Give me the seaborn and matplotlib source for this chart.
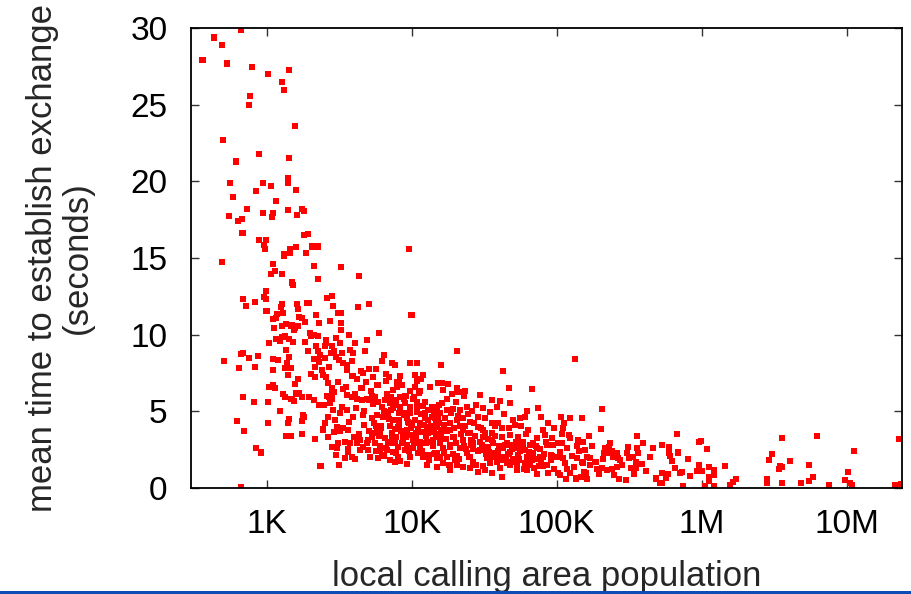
import matplotlib
matplotlib.use("Agg")
import matplotlib.pyplot as plt
from matplotlib.patches import Rectangle
import pandas as pd
import seaborn as sns

# Local calling areas grouped by population band: population and mean
# time (seconds) to establish an exchange.
pop_under_1k = [660, 430, 490, 360, 530, 790, 760, 755, 500, 880, 615, 560, 940, 845,
                585, 735, 935, 550, 630, 675, 680, 880, 990, 958, 975,
                490, 985, 958, 990, 690, 835, 715, 995, 660, 690, 870, 755, 505, 645,
                830, 690, 815, 620, 700, 845, 910, 660]
sec_under_1k = [29.9, 29.4, 28.9, 27.9, 27.7, 27.5, 25.6, 25.0, 22.7, 21.8, 21.3, 19.9, 19.9, 19.4,
                19.0, 18.2, 17.95, 17.75, 17.4, 17.55, 16.65, 16.15, 16.15, 15.85, 15.6,
                14.75, 12.85, 12.45, 12.3, 12.3, 12.1, 11.85, 11.55, 8.75, 8.8, 8.6, 8.5, 8.3, 7.8,
                7.9, 5.95, 5.6, 4.35, 3.7, 2.6, 2.3, 0.03]

pop_1k_10k = [1020, 1420, 1270, 1320, 1570, 1430, 1395, 1410, 1065, 1590, 1160, 1750, 1810, 1410,
              1110, 1090, 1620, 1815, 1920, 1450, 1590, 2065,
              1450, 1305, 1320, 1865, 2270, 1110, 1145, 1075, 1275, 2130, 2250, 1490, 1520,
              1270, 1255, 1610, 1635, 1905, 1965, 1290, 1180, 1155, 1110, 1670, 1760, 1845,
              2190, 2295, 1360, 1280, 1500, 1560, 1650, 1480, 1550, 1115, 2000, 2050, 2120,
              2250, 2010, 1310, 1275, 1345, 1430, 1230, 1165, 1520, 1845, 1030, 2190, 2250,
              1365, 1935, 1100, 1200, 1430, 1385, 2120, 2260, 2285, 1100, 1330, 1465, 2165,
              2010, 2165, 1395, 1645, 1565, 1040, 1105, 1145, 1015, 1295, 1345, 1480, 1540,
              1590, 1665, 1750, 1960, 2130, 2295, 1240, 1780, 1800, 1425, 1395, 1740, 1015,
              1365, 1470, 1750, 2165, 2320,
              3240, 4300, 9550, 2605, 2820, 9950,
              2880, 4240, 5070, 3100, 3240, 2735, 3250, 3270, 5920, 3700, 3020, 2564, 2576,
              2512, 2818, 3206, 4064, 4895, 2775, 3304, 3758, 3920, 4788, 6440, 6211, 7277,
              7674, 9730, 2512, 2333, 2993, 3170, 3373, 3891, 3565, 4446, 5047, 4634, 5649,
              5433, 6653, 7015, 6653, 8298, 8170, 8570, 7960, 7460, 2455, 2564, 2393, 2661,
              2805, 2924, 2831, 2673, 2818, 3342, 3597, 3855, 4064, 4175, 4540, 4895, 5300,
              5610, 5830, 6210, 6550, 7080, 7460, 6790, 6580, 8130, 8810, 9250, 9730, 7460,
              7080, 7670, 8090, 9250, 9730, 5740, 6040, 5300, 5020, 4400, 4175, 4634, 3758,
              3040, 3206, 3373, 3656, 2911, 3120, 3040, 3006, 3467, 3656, 4083, 4400, 3170,
              2382, 5020, 6040, 6710, 7460, 6210, 5890, 7080, 7670, 8300, 9250,
              7840, 8300, 9000, 9730, 7840, 8750, 7280, 6550, 5580, 3955, 3565, 4634, 5300,
              5740, 3206, 2877, 2735, 2661, 2523, 2661, 2805, 3855, 5150, 5580, 8090, 9000,
              9730, 8090,
              5200, 5500, 5800, 6100, 6400, 6700, 7000, 7300, 7600, 7900, 8200, 8500, 8800,
              9100, 9400, 9700, 6000, 6300, 6900, 7200, 7800, 8400, 8900, 9300, 9900, 4100,
              4300, 4500, 4700, 4900, 5100, 5400, 5700, 4200, 4800, 3500, 3700, 3900, 3300,
              3100, 2950, 3450, 3650, 4000, 2700, 2600, 2480, 2450, 2900, 3550,
              6850, 7350, 7750, 8150, 8650, 9050, 9550, 6150, 6600, 7150, 7700, 8350, 8950,
              9600, 5350, 5950, 6450, 4650, 5050, 5650]
sec_1k_10k = [27.0, 27.3, 26.5, 26.0, 23.6, 21.5, 20.2, 19.9, 19.7, 19.45, 18.7, 18.2, 18.05, 18.15,
              17.95, 17.7, 17.8, 16.5, 16.55, 15.6, 15.7, 15.75,
              15.35, 15.25, 15.15, 15.3, 15.75, 14.6, 14.15, 13.95, 13.95, 14.5, 13.6, 13.4, 13.25,
              12.0, 11.8, 12.0, 11.7, 12.05, 12.05, 11.4, 11.35, 11.1, 11.0, 11.15, 11.1, 10.8,
              11.25, 10.75, 10.7, 10.55, 10.6, 10.45, 10.55, 10.55, 10.3, 10.4, 10.1, 10.0, 9.97,
              9.92, 9.92, 9.85, 9.85, 9.9, 9.7, 9.55, 9.7, 9.5, 9.5, 9.45, 9.25, 8.95,
              9.0, 8.95, 8.4, 8.35, 8.55, 8.15, 8.4, 8.4, 8.2, 7.7, 7.8, 7.8, 7.9,
              7.45, 7.25, 7.35, 7.1, 6.8, 6.6, 6.7, 6.5, 5.6, 6.1, 5.95, 5.8, 5.65,
              6.15, 6.2, 5.92, 5.92, 5.7, 5.38, 5.0, 4.75, 4.6, 4.5, 4.25, 4.35, 4.2,
              3.35, 3.35, 3.5, 3.15, 1.4,
              14.4, 13.85, 15.6, 12.4, 12.5, 11.25,
              11.85, 11.8, 12.0, 11.4, 11.4, 10.9, 10.75, 10.3, 10.1, 10.0, 9.8, 9.64, 9.43,
              9.27, 9.25, 9.43, 9.43, 9.65, 8.81, 8.77, 8.99, 8.77, 8.92, 8.64, 8.27, 8.12,
              7.99, 8.12, 8.45, 8.66, 8.51, 8.34, 8.12, 8.27, 7.99, 7.64, 7.73, 7.51, 7.75,
              7.21, 7.42, 7.21, 6.95, 7.27, 6.92, 6.68, 6.59, 6.38, 7.36, 7.25, 7.68, 6.81,
              6.49, 6.27, 6.1, 5.9, 5.77, 6.42, 6.05, 5.9, 6.12, 5.77, 5.72, 5.81, 5.87,
              5.94, 5.57, 5.29, 5.72, 5.51, 5.18, 4.96, 4.75, 4.86, 4.75, 4.53, 4.86, 4.42,
              4.03, 3.81, 3.98, 3.77, 3.44, 3.98, 3.66, 3.33, 3.11, 3.11, 2.94, 2.68, 2.9,
              3.98, 3.72, 3.88, 3.77, 3.66, 2.9, 2.57, 2.13, 1.92, 2.33, 1.87, 2.46, 1.48,
              1.44, 2.46, 2.51, 2.46, 2.35, 2.13, 1.92, 1.81, 1.7, 1.74, 1.55,
              5.72, 5.29, 5.51, 5.29, 3.33, 3.11, 2.9, 3.22, 3.55, 4.63, 5.07, 4.75, 4.53,
              4.75, 4.86, 5.07, 5.51, 4.63, 4.2, 3.33, 2.68, 2.02, 2.02, 2.9, 2.68, 2.46,
              2.02, 2.02,
              6.3, 4.2, 6.7, 3.9, 5.0, 6.1, 4.5, 3.6, 5.4, 6.9, 4.1, 2.9, 5.8,
              3.3, 4.3, 6.3, 2.7, 4.6, 3.0, 5.9, 2.3, 3.7, 4.9, 2.8, 3.9, 5.2,
              3.5, 6.5, 4.1, 2.9, 3.7, 5.5, 2.4, 7.1, 6.9, 6.6, 4.3, 7.3, 5.3,
              6.9, 4.4, 3.0, 2.5, 3.3, 7.9, 6.0, 5.4, 3.8, 8.9, 7.7,
              4.8, 3.2, 5.6, 4.4, 3.4, 6.0, 4.2, 4.0, 2.6, 5.1, 3.0, 5.9, 3.5,
              2.4, 6.0, 3.4, 2.1, 5.0, 5.7, 4.0]

pop_10k_100k = [10810, 10540, 12020, 11590, 10940, 10600, 11400, 15200, 10160, 10940, 12020,
                13030, 10540, 11400, 12360, 13740, 14720, 10710, 11720, 13030, 14250, 10260,
                11400, 12560, 13960, 15280, 10260, 11120, 12020, 13030, 14490, 14860, 12680,
                10810, 12360, 13740, 14860, 10000, 12680, 13740, 15280,
                20510, 16000, 42850, 16250, 16520, 20420, 23330, 18880, 20990, 29580, 46880,
                67260, 40640, 47640, 73960, 16110, 14090, 27750, 23940, 21530, 19360, 17400,
                15680, 14490, 16980, 18370, 20420, 22700, 25230, 28780, 32000, 34670, 38550,
                39550, 41780, 35650, 31190, 50230, 55850, 60390, 51520, 63680, 47640, 54330,
                58880, 65450, 72780, 80910, 87500, 82980, 85310, 91000, 69020, 76740, 87500,
                72780, 62130, 52970, 47640, 41780, 35650, 32000, 28780, 25230, 22700, 20420,
                18370, 16520, 14860,
                26600, 29580, 33730, 37500, 42850, 47640, 54330, 60390, 65450, 50230, 38550,
                32890, 23940, 21530, 18370, 15680, 14860, 17400, 19900, 26600, 22700, 25230,
                19360, 16520, 14860, 18370, 45190, 52970, 35650, 31190,
                93800, 92500, 92500,
                10300, 10900, 11600, 12300, 12900, 13600, 14300, 15100, 15900, 16800, 17600,
                18600, 19600, 20700, 21900, 23100, 24400, 25800, 27200, 28700, 30300, 32000,
                33800, 35700, 37700, 39800, 42000, 44300, 46800, 49400, 52100, 55000, 58100,
                61300, 64700, 68300, 72100, 76100, 80300, 84800, 10400, 11000, 11800, 12500,
                13200, 14000, 14700, 15600, 16400, 17300, 18200, 19200, 20200, 21300, 22500,
                23700, 25000, 26400, 27900, 29400, 31000, 32700, 34500, 36400, 38400, 40500,
                42700, 45100, 47600, 50200, 53000, 56000, 59000, 62300, 65800, 69400, 73200,
                77300, 81600, 86100, 90900, 95900, 11200, 13300, 15500, 17800, 20100, 22800,
                26000, 30900, 36000, 43500, 56800, 62000, 78000, 95000,
                10650, 11450, 12150, 12750, 13450, 14150, 14950, 15750, 16650, 17550, 18450,
                19450, 20550, 21650, 22950, 24250, 25550, 27050, 28550, 30150, 31850, 33550,
                35450, 37450, 39450, 41650, 43950, 46450, 49050, 51750, 54550, 57550, 60750,
                64150, 67750, 71550, 75550, 79750]
sec_10k_100k = [8.16, 7.36, 7.34, 7.1, 6.98, 6.59, 6.33, 6.81, 5.77, 5.61, 5.33,
                5.07, 4.42, 4.2, 4.53, 4.63, 4.31, 3.59, 3.66, 3.55, 3.81, 3.11,
                3.0, 2.9, 3.11, 3.33, 2.57, 2.24, 2.02, 2.13, 2.24, 1.92, 1.48,
                4.96, 4.86, 5.29, 5.07, 4.09, 3.98, 3.66, 4.2,
                8.94, 8.01, 7.6, 6.81, 6.38, 6.53, 6.33, 6.12, 6.25, 6.05, 6.53,
                6.42, 5.66, 5.55, 5.22, 5.55, 5.25, 5.4, 5.25, 5.07, 5.14, 5.07,
                4.86, 4.53, 4.53, 4.2, 4.42, 4.53, 4.31, 3.98, 4.53, 4.96, 5.25,
                4.2, 3.88, 3.55, 3.33, 4.42, 4.53, 4.6, 4.09, 3.77, 3.44, 3.33,
                3.0, 2.79, 3.22, 3.77, 4.2, 3.44, 2.79, 2.13, 2.24, 2.02, 0.94,
                0.89, 1.16, 1.16, 1.48, 0.72, 0.94, 1.16, 1.04, 1.27, 1.37, 1.48,
                1.16, 1.59, 1.37,
                2.9, 2.46, 2.68, 2.24, 2.57, 2.35, 2.13, 2.46, 1.92, 1.7, 1.7,
                1.92, 2.24, 2.57, 2.68, 2.9, 2.24, 2.02, 1.81, 1.7, 3.77, 3.55,
                3.33, 3.77, 3.98, 3.77, 2.9, 2.79, 4.2, 3.77,
                2.79, 2.07, 3.22,
                5.9, 5.2, 4.8, 5.6, 4.4, 4.0, 5.0, 4.6, 3.6, 4.1, 5.8,
                4.9, 3.9, 4.7, 3.5, 4.0, 4.8, 3.1, 3.4, 4.6, 2.8, 3.6,
                2.3, 3.1, 4.0, 2.7, 3.3, 1.9, 3.9, 2.5, 3.0, 1.8, 2.6,
                3.5, 1.5, 2.9, 1.9, 2.5, 1.4, 3.0, 2.9, 3.8, 2.4, 3.4,
                1.8, 2.7, 3.5, 2.0, 2.6, 3.2, 1.5, 2.2, 2.9, 1.9, 3.1,
                2.5, 2.0, 2.5, 1.5, 3.0, 1.4, 2.2, 1.6, 2.9, 2.1, 1.3,
                2.0, 1.6, 2.8, 1.9, 1.4, 2.4, 1.2, 2.0, 1.7, 1.3, 2.6,
                1.6, 2.2, 1.5, 1.8, 1.2, 6.2, 6.6, 5.4, 6.8, 5.6, 6.0,
                5.0, 5.2, 5.7, 4.8, 4.0, 5.0, 4.6, 3.9,
                3.3, 2.6, 4.1, 3.0, 3.7, 2.2, 4.3, 3.2, 2.3, 3.7, 2.8,
                3.3, 2.1, 4.0, 2.7, 3.6, 2.8, 4.2, 2.4, 3.9, 2.6, 3.2,
                2.0, 3.4, 2.4, 1.8, 2.8, 2.2, 1.7, 2.6, 1.9, 2.9, 1.6,
                2.3, 1.8, 2.7, 1.4, 2.0]

pop_100k_1m = [100000, 102600, 204200, 133700, 202300, 106600, 112300, 123600, 149300, 111200,
               122200, 123600, 102600, 109400, 117300, 105400, 140900, 151000, 167900, 138700,
               156700, 215300, 228600, 239300, 211800, 252400, 263600, 304100, 311900, 359700,
               359700, 393700, 459200, 529700, 594300, 676100, 334300, 352400, 385500, 352400,
               325800, 604000, 621000, 589000, 567500, 515000, 534600, 269000, 221300, 239300,
               259400, 161100, 146600, 123600, 115900, 105400, 159200, 188800, 204200, 169800,
               152400, 131500, 114000, 137400, 148600, 161100, 169800, 111200,
               594300, 529700, 564900, 707900, 734600, 829800, 746400, 803500, 952600, 993200,
               952600, 933300, 365600, 317000, 259400, 273500, 215300, 227000, 245500,
               108000, 118000, 127000, 135000, 143000, 155000, 175000, 185000, 196000, 208000,
               232000, 248000, 283000, 298000, 343000, 410000, 440000, 480000, 650000, 690000]
sec_100k_1m = [2.02, 0.94, 5.14, 8.38, 3.83, 4.6, 4.24, 4.53, 4.53, 3.88,
               3.44, 3.22, 2.94, 2.9, 2.61, 2.35, 3.11, 3.0, 3.37, 2.72,
               2.46, 2.53, 2.68, 2.4, 2.24, 2.13, 1.96, 2.28, 2.64, 2.57,
               3.37, 2.9, 2.57, 2.79, 2.68, 3.49, 2.02, 1.7, 1.55, 1.27,
               1.27, 2.07, 1.74, 0.87, 0.65, 0.33, 0.33, 0.57, 1.16, 1.2,
               1.33, 0.55, 0.72, 0.94, 0.57, 0.81, 0.98, 1.22, 1.27, 1.48,
               1.59, 1.33, 1.59, 1.92, 1.7, 2.02, 1.92, 1.92,
               2.24, 0.98, 0.65, 0.94, 1.0, 0.76, 0.11, 1.89, 2.96, 3.05,
               1.46, 1.11, 2.24, 1.92, 2.24, 1.81, 2.57, 2.24, 2.02,
               3.5, 1.2, 2.1, 0.6, 2.4, 1.0, 2.7, 1.7, 0.9, 1.9,
               2.9, 0.8, 1.5, 0.5, 0.9, 1.1, 2.0, 0.6, 1.3, 2.3]

pop_over_1m = [1011000, 1094000, 1114000, 1114000, 1213000, 1213000, 1122000, 1059000, 1213000,
               1436000, 1567000, 1652000, 1726000, 2805000, 2838000, 2924000, 3055000, 3396000,
               3467000, 3581000, 3597000, 3564000, 4083000, 4819000, 5500000, 5834000, 5500000,
               6237000, 7551000, 9680000, 10160000, 10550000, 10820000, 11270000, 21630000,
               23700000, 22960000]
sec_over_1m = [1.11, 2.53, 1.37, 0.72, 1.16, 0.83, 0.46, 0.11, 0.11,
               1.42, 0.2, 0.39, 0.55, 0.55, 0.29, 1.81, 2.18, 1.24,
               1.44, 1.35, 3.22, 0.29, 1.72, 0.29, 1.46, 0.7, 0.46,
               3.39, 0.18, 0.5, 1.0, 0.29, 0.18, 2.42, 0.18,
               0.26, 3.18]

x_ticks = [1e3, 1e4, 1e5, 1e6, 1e7]
x_tick_labels = ["1K", "10K", "100K", "1M", "10M"]
y_ticks = [0, 5, 10, 15, 20, 25, 30]

df = pd.DataFrame({
    "population": pop_under_1k + pop_1k_10k + pop_10k_100k + pop_100k_1m + pop_over_1m,
    "seconds": sec_under_1k + sec_1k_10k + sec_10k_100k + sec_100k_1m + sec_over_1m,
})

sns.set_style("ticks")
plt.rcParams["font.family"] = ["Liberation Sans", "DejaVu Sans"]

fig = plt.figure(figsize=(9.12, 5.94), dpi=100)
ax = fig.add_axes([191 / 912, 1 - 487.7 / 594, (901.7 - 191) / 912, (487.7 - 28.3) / 594])

sns.scatterplot(data=df, x="population", y="seconds", ax=ax, marker="s", s=19,
                color="#ff0000", linewidth=0, edgecolor="none")

ax.set_xscale("log")
ax.set_xlim(300, 10 ** 7.379)
ax.set_ylim(0, 30)
ax.set_xticks(x_ticks)
ax.set_xticklabels(x_tick_labels)
ax.xaxis.set_minor_locator(matplotlib.ticker.NullLocator())
ax.set_yticks(y_ticks)
ax.set_yticklabels([str(v) for v in y_ticks])

ax.tick_params(axis="both", which="major", direction="in", length=6, width=1,
               color="#333333", labelsize=24, top=True, right=True, labelcolor="black")
ax.tick_params(axis="y", pad=17)
ax.tick_params(axis="x", pad=15)

for side in ["left", "right", "top", "bottom"]:
    ax.spines[side].set_visible(True)
    ax.spines[side].set_linewidth(1.3)
    ax.spines[side].set_color("black")

ax.set_xlabel("local calling area population", fontsize=25, labelpad=15)
ax.set_ylabel("mean time to establish exchange\n(seconds)", fontsize=25, labelpad=26,
              linespacing=1.1)

# slide rule line along the lower edge
fig.add_artist(Rectangle((0, 0), 1, 3 / 594, transform=fig.transFigure,
                         facecolor="#0b4cb5", edgecolor="none"))

fig.savefig("out.png", dpi=100, facecolor="white")
